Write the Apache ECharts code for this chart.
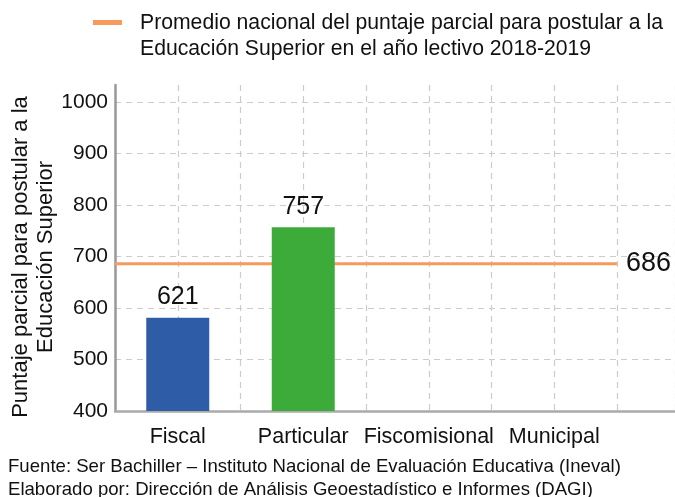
<!DOCTYPE html>
<html>
<head>
<meta charset="utf-8">
<style>
  html, body { margin: 0; padding: 0; background: #fff; }
  #chart { width: 675px; height: 497px; }
</style>
<script src="https://cdn.jsdelivr.net/npm/echarts@6/dist/echarts.min.js"></script>
</head>
<body>
<div id="chart"></div>
<script>
// datos
const categories = ["Fiscal", "Particular", "Fiscomisional", "Municipal"];
const barValues = [581, 757, null, null];     // altura dibujada de cada barra
const barLabels = ["621", "757", "", ""];     // etiqueta que aparece sobre la barra
const promedio = 686;
const promedioName = "Promedio nacional del puntaje parcial para postular a la\nEducación Superior en el año lectivo 2018-2019";
const yTicks = [400, 500, 600, 700, 800, 900, 1000];

const barColors = ["#2f5ca6", "#3dab39", "#999", "#999"];
const lineColor = "#f79a5b";
const font = "Liberation Sans, Arial, sans-serif";

const myChart = echarts.init(document.getElementById("chart"));

const xMax = 560 / 125.5; // el eje sigue más allá de la última categoría

myChart.setOption({
  animation: false,
  textStyle: { fontFamily: font },
  grid: { left: 115, right: 0, top: 85, bottom: 86, outerBoundsMode: "none" },
  xAxis: {
    type: "value",
    min: 0,
    max: xMax,
    interval: 0.5,
    axisLine: { show: true, lineStyle: { color: "#aaa", width: 2.5 } },
    axisTick: { show: false },
    splitLine: { show: true, lineStyle: { color: "#ccc", type: [6, 5], width: 1.2 } },
    axisLabel: {
      fontSize: 21.5,
      color: "#111",
      margin: 15,
      showMaxLabel: false,
      formatter: (v) => {
        const i = Math.round(v - 0.5);
        return Math.abs(v - 0.5 - i) < 1e-6 && categories[i] ? categories[i] : "";
      }
    }
  },
  yAxis: {
    type: "value",
    min: yTicks[0],
    max: 1033,
    interval: 100,
    name: "Puntaje parcial para postular a la\nEducación Superior",
    nameLocation: "middle",
    nameRotate: 90,
    nameGap: 57,
    nameMoveOverlap: false,
    nameTextStyle: { fontSize: 22, color: "#111", lineHeight: 25, padding: [0, 18, 0, 0] },
    axisLine: { show: true, lineStyle: { color: "#999", width: 2.5 } },
    axisTick: { show: false },
    splitLine: { show: true, showMaxLine: false, lineStyle: { color: "#ccc", type: [6, 5], width: 1.2 } },
    axisLabel: {
      fontSize: 21,
      color: "#111",
      margin: 7,
      showMaxLabel: false,
      formatter: (v) => (yTicks.indexOf(v) >= 0 ? String(v) : "")
    }
  },
  series: [
    {
      name: promedioName,
      type: "line",
      z: 1,
      showSymbol: false,
      symbol: "none",
      color: lineColor,
      lineStyle: { color: lineColor, width: 3 },
      data: [[0, promedio], [categories.length, promedio]],
      endLabel: {
        show: true,
        distance: 9,
        fontSize: 27,
        color: "#111",
        formatter: String(promedio)
      }
    },
    {
      name: "barras",
      type: "bar",
      z: 3,
      barWidth: 63,
      data: categories.map((c, i) => ({
        value: [i + 0.5, barValues[i]],
        itemStyle: { color: barColors[i] }
      })),
      label: {
        show: true,
        position: "top",
        distance: 8,
        fontSize: 25,
        color: "#111",
        formatter: (p) => barLabels[p.dataIndex]
      }
    }
  ],
  graphic: [
    // leyenda
    {
      type: "rect",
      left: 93,
      top: 20,
      shape: { width: 29, height: 5 },
      style: { fill: lineColor }
    },
    {
      type: "text",
      left: 140,
      top: 10,
      style: {
        text: promedioName,
        font: "21.2px " + font,
        fill: "#111",
        lineHeight: 26
      }
    },
    // fuente
    {
      type: "text",
      left: 8,
      top: 455,
      style: {
        text: "Fuente: Ser Bachiller – Instituto Nacional de Evaluación Educativa (Ineval)\nElaborado por: Dirección de Análisis Geoestadístico e Informes (DAGI)",
        font: "18.6px " + font,
        fill: "#111",
        lineHeight: 23
      }
    }
  ]
});
</script>
</body>
</html>
